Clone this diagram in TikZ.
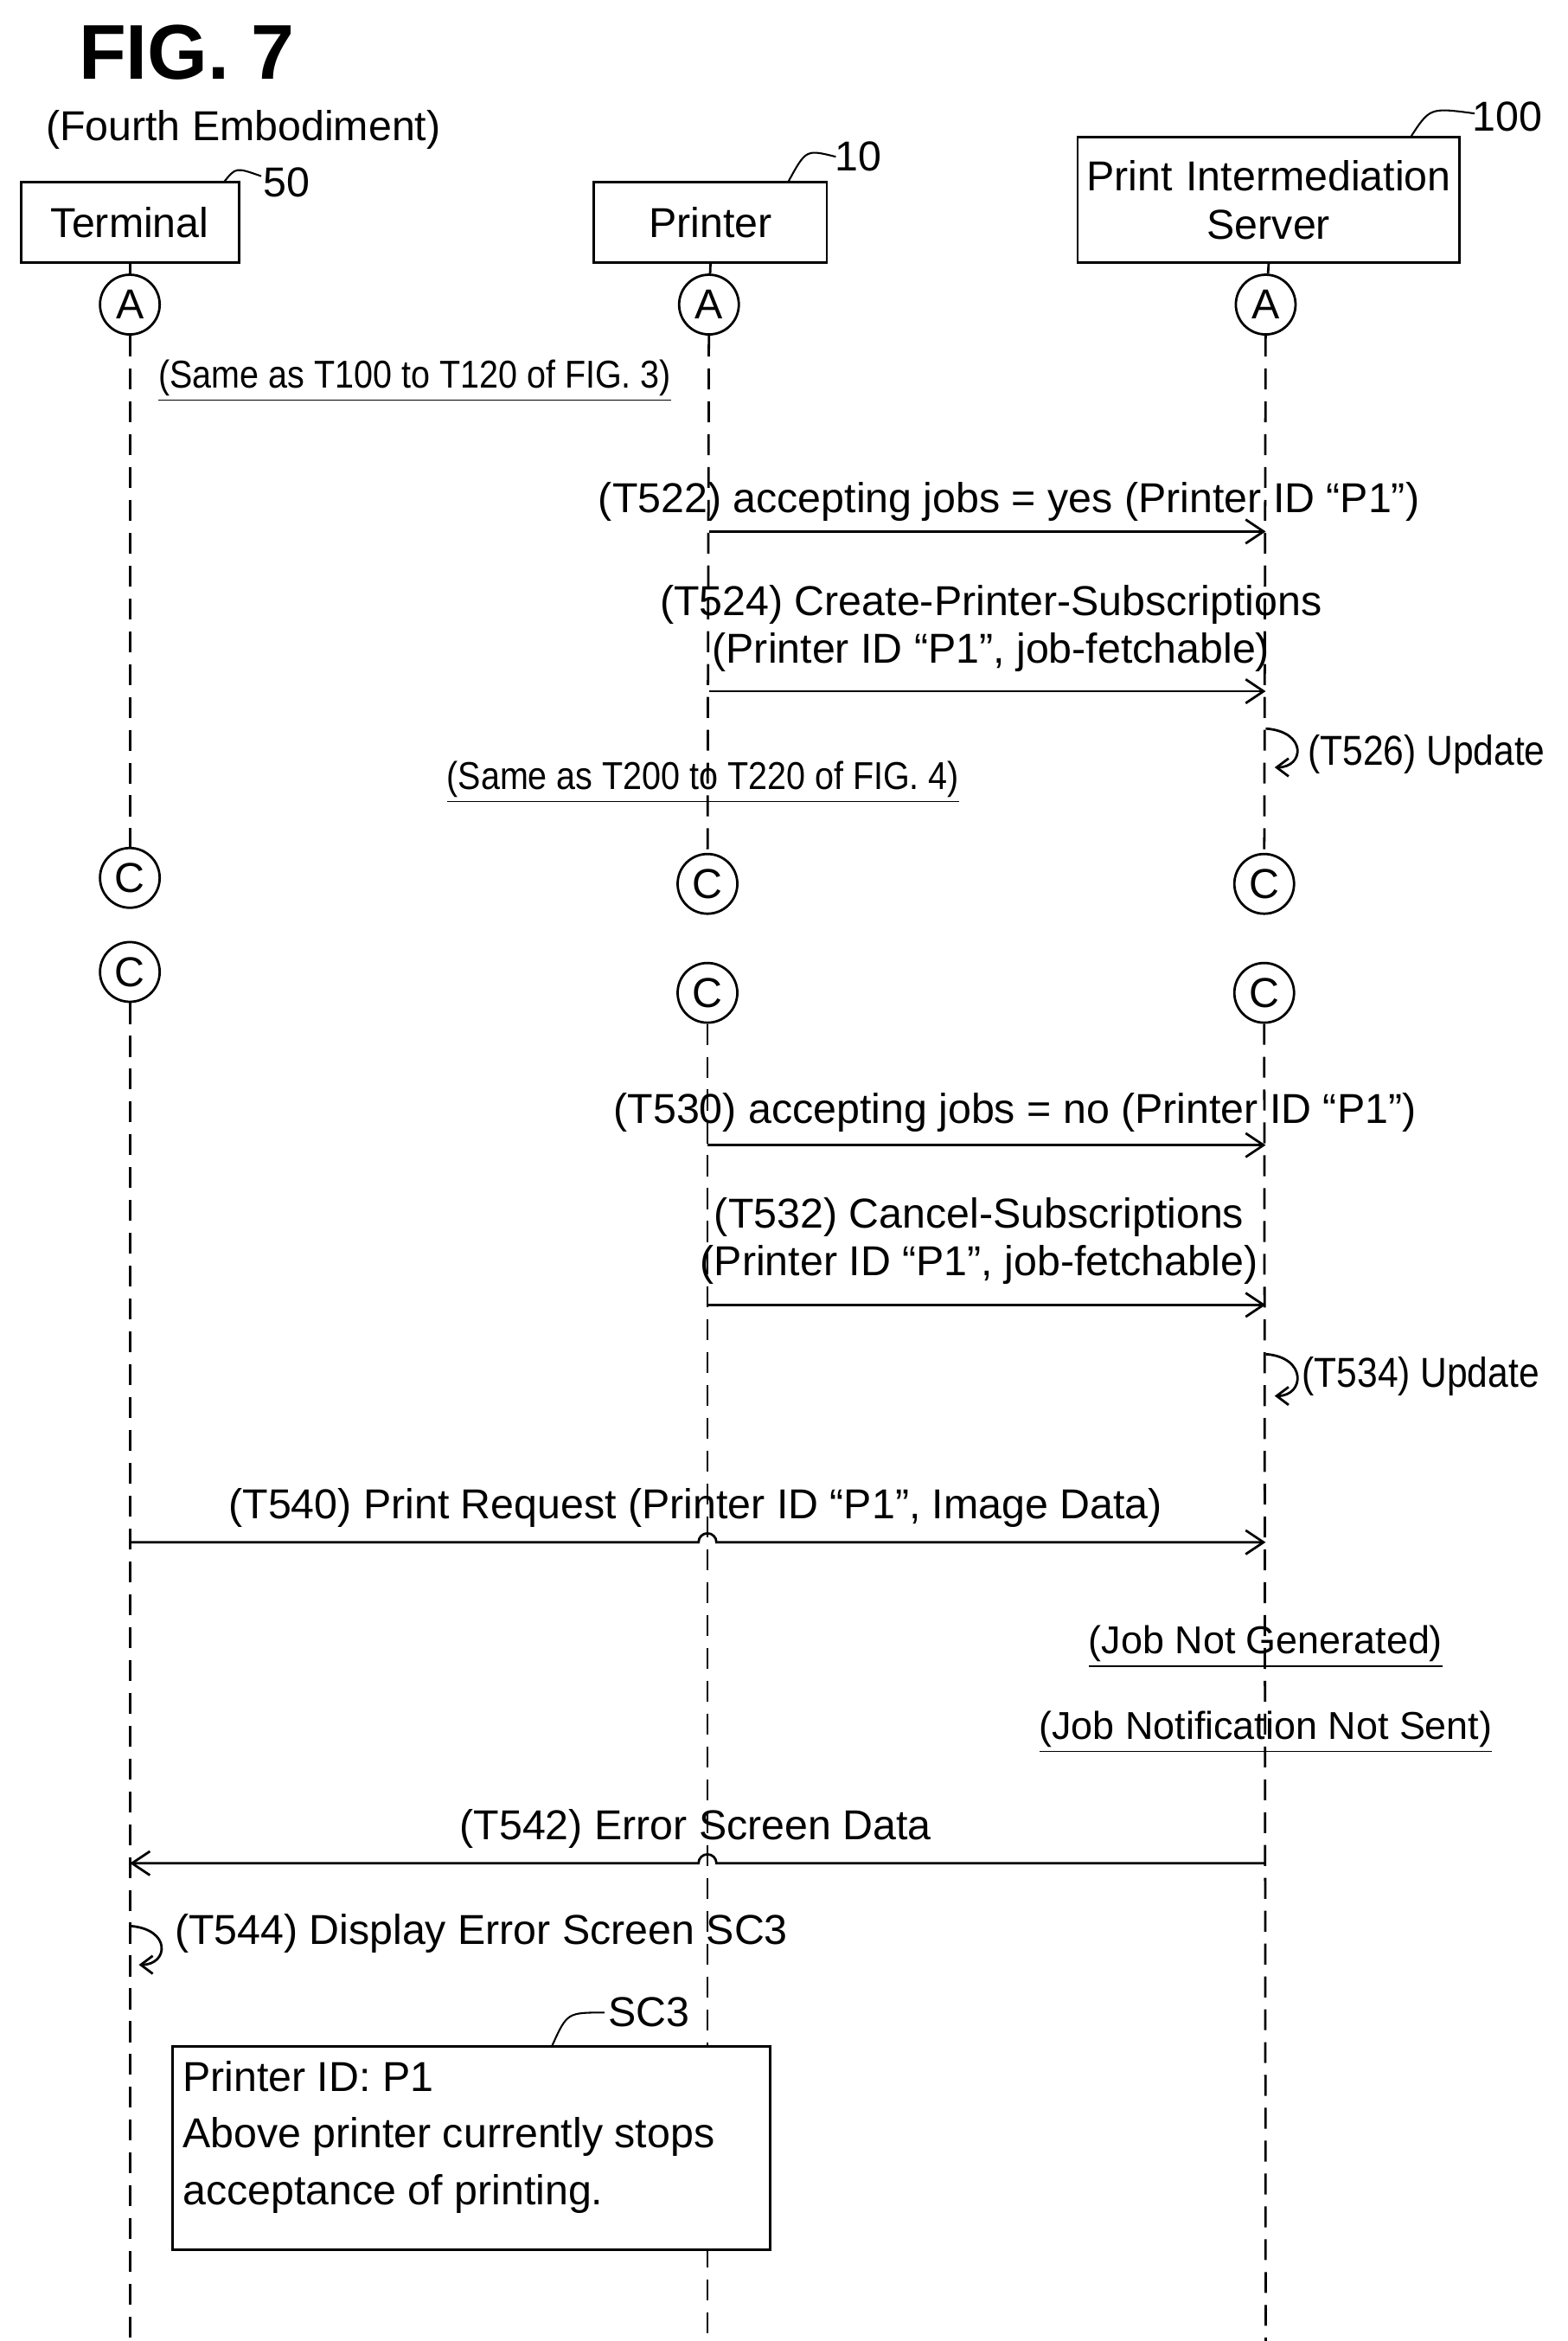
\documentclass[tikz,border=0pt]{standalone}
\usepackage{fontspec}
\setmainfont{Liberation Sans}
\usetikzlibrary{arrows.meta}
\begin{document}
\begin{tikzpicture}[x=0.5pt,y=-0.5pt,
 every node/.style={font=\fontsize{14}{16}\selectfont},
 box/.style={draw,line width=0.8pt,minimum height=27pt,inner sep=2pt},
 circ/.style={draw,circle,line width=0.8pt,minimum size=20pt,inner sep=0pt},
 life/.style={line width=0.8pt,dash pattern=on 7pt off 4pt},
 msg/.style={line width=0.8pt,-{Straight Barb[length=6pt,width=8pt]}},
 lead/.style={line width=0.6pt},
 ul/.style={inner sep=1pt,font=\fontsize{13}{15}\selectfont}]
\useasboundingbox (0,0) rectangle (1050,1568);
\node[font=\bfseries\fontsize{26}{28}\selectfont] (fig) at (125,35) {FIG. 7};
\node (emb) at (163,87) {(Fourth Embodiment)};
\node[box,minimum width=73pt] (term) at (87,149) {Terminal};
\node[box,minimum width=78pt] (prn) at (476,149) {Printer};
\node[box,minimum width=128pt,minimum height=42pt,align=center,text width=124pt] (srv) at (850,134) {Print Intermediation\\Server};
\node (n50) at (192,122) {50};
\draw[lead] (150,122) .. controls (158,112) .. (175,118);
\node (n10) at (575,105) {10};
\draw[lead] (528,122) .. controls (540,100) .. (560,105);
\node (n100) at (1010,78) {100};
\draw[lead] (945,92) .. controls (958,72) .. (988,76);
\foreach \n/\x in {tA/87,pA/475,sA/848}{\node[circ] (\n) at (\x,204) {A};}
\foreach \n/\x/\y in {tC1/87/588,pC1/474/592,sC1/847/592,tC2/87/651,pC2/474/665,sC2/847/665}{\node[circ] (\n) at (\x,\y) {C};}
\draw[life] (term.south) -- (tA); \draw[life] (prn.south) -- (pA); \draw[life] (srv.south) -- (sA);
\draw[life] (tA) -- (tC1); \draw[life] (pA) -- (pC1); \draw[life] (sA) -- (sC1);
\coordinate (tE) at (87,1568); \coordinate (sE) at (848,1568);
\coordinate (pB1) at (474,1370); \coordinate (pB2) at (474,1505); \coordinate (pE) at (474,1568);
\draw[life] (tC2) -- (tE); \draw[life] (sC2) -- (sE);
\draw[life] (pC2) -- (pB1); \draw[life] (pB2) -- (pE);
\node[ul] (n1) at (278,255) {\underline{\scalebox{0.88}[1]{(Same as T100 to T120 of FIG. 3)}}};
\node[ul] (n2) at (471,524) {\underline{\scalebox{0.88}[1]{(Same as T200 to T220 of FIG. 4)}}};
\node (l522) at (676,336) {(T522) accepting jobs = yes (Printer ID “P1”)};
\coordinate (a1) at (475,356); \coordinate (b1) at (848,356);
\draw[msg] (a1) -- (b1);
\node[align=center] (l524) at (664,421) {(T524) Create-Printer-Subscriptions\\(Printer ID “P1”, job-fetchable)};
\coordinate (a2) at (475,463); \coordinate (b2) at (848,463);
\draw[msg] (a2) -- (b2);
\coordinate (u1) at (848,488); \coordinate (u2) at (854,514);
\draw[msg,-{Straight Barb[length=4pt,width=6pt]}] (u1) .. controls (876,490) and (874,514) .. (u2);
\node[anchor=west,inner sep=1pt] (l526) at (874,505) {\scalebox{0.88}[1]{(T526) Update}};
\node (l530) at (680,745) {(T530) accepting jobs = no (Printer ID “P1”)};
\coordinate (a3) at (474,767); \coordinate (b3) at (848,767);
\draw[msg] (a3) -- (b3);
\node[align=center] (l532) at (656,831) {(T532) Cancel-Subscriptions\\(Printer ID “P1”, job-fetchable)};
\coordinate (a4) at (474,874); \coordinate (b4) at (848,874);
\draw[msg] (a4) -- (b4);
\coordinate (u3) at (848,907); \coordinate (u4) at (854,935);
\draw[msg,-{Straight Barb[length=4pt,width=6pt]}] (u3) .. controls (876,909) and (874,935) .. (u4);
\node[anchor=west,inner sep=1pt] (l534) at (870,922) {\scalebox{0.88}[1]{(T534) Update}};
\node (l540) at (466,1010) {(T540) Print Request (Printer ID “P1”, Image Data)};
\coordinate (a5) at (87,1033); \coordinate (b5) at (848,1033);
\draw[msg] (a5) -- (468,1033) arc(180:360:6) -- (b5);
\node[ul] (jng) at (848,1103) {\underline{(Job Not Generated)}};
\node[ul] (jns) at (848,1160) {\underline{(Job Notification Not Sent)}};
\node (l542) at (466,1225) {(T542) Error Screen Data};
\coordinate (a6) at (848,1248); \coordinate (b6) at (87,1248);
\draw[msg] (a6) -- (480,1248) arc(360:180:6) -- (b6);
\coordinate (u5) at (87,1290); \coordinate (u6) at (93,1316);
\draw[msg,-{Straight Barb[length=4pt,width=6pt]}] (u5) .. controls (115,1292) and (113,1316) .. (u6);
\node[anchor=west] (l544) at (110,1295) {(T544) Display Error Screen SC3};
\node[draw,line width=0.8pt,fill=white,minimum width=200pt,minimum height=68pt,anchor=north west] (sc3) at (115,1370) {};
\node[anchor=north west,align=left,inner sep=0pt] (sct) at (122,1380) {Printer ID: P1\\[3pt]Above printer currently stops\\[3pt]acceptance of printing.};
\node (lsc3) at (435,1348) {SC3};
\draw[lead] (370,1370) .. controls (380,1348) .. (405,1348);
\end{tikzpicture}
\end{document}
